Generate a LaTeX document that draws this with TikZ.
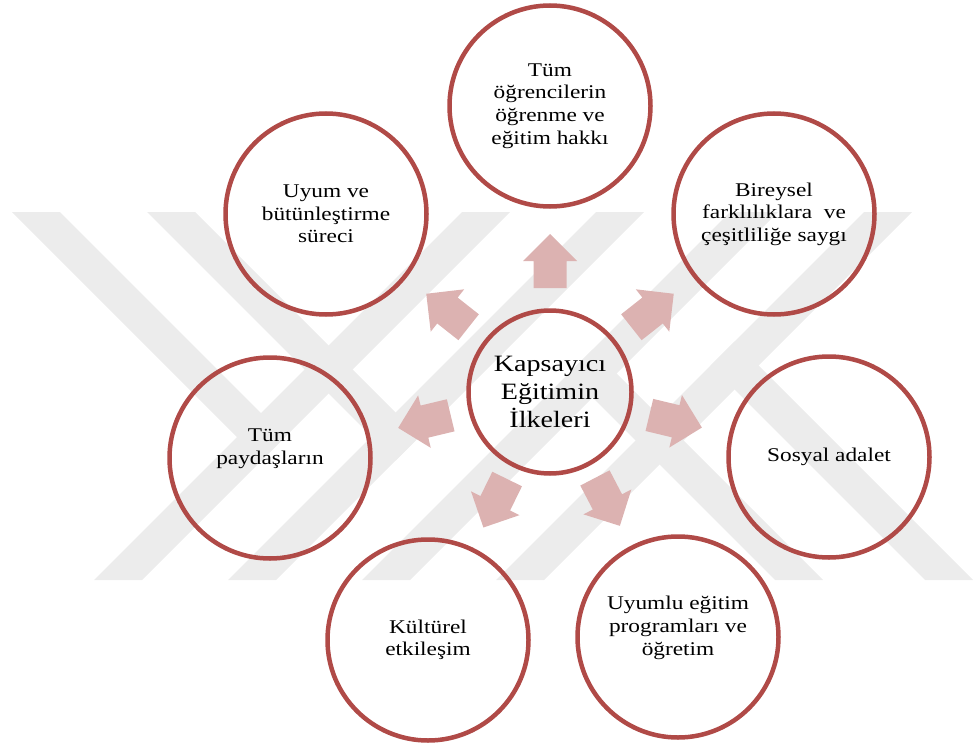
\documentclass[tikz,border=0pt]{standalone}
\usepackage{fontspec}
\setmainfont{Liberation Serif}[FakeStretch=1.2]
\usetikzlibrary{calc}
\definecolor{ringred}{RGB}{176,74,71}
\definecolor{arrpink}{RGB}{220,178,177}
\definecolor{wmgray}{RGB}{236,236,236}
\tikzset{ring/.style={circle,draw=ringred,line width=4.5bp,minimum size=201bp,inner sep=0pt,align=center,font=\fontsize{19.5}{22.7}\selectfont}}
\tikzset{hub/.style={ring,minimum size=163bp,font=\fontsize{23.5}{28}\selectfont}}
\tikzset{blk/.pic={\fill[arrpink] (-27,-16.5) -- (0,-16.5) -- (0,-27) -- (27,0) -- (0,27) -- (0,16.5) -- (-27,16.5) -- cycle;}}
\tikzset{wm/.style={fill=wmgray}}

\begin{document}
\begin{tikzpicture}[x=1bp,y=-1bp]
                \useasboundingbox (0,0) rectangle (979,744);
                % watermark
                \foreach \b in {462,596,730,864}
                  \fill[wm] (\b,212) -- ++(48,0) -- ++(-368,368) -- ++(-48,0) -- cycle;
                \fill[wm] (12,212) -- (60,212) -- (285,437) -- (261,461) -- cycle;
                \fill[wm] (147,212) -- (195,212) -- (419.5,436.5) -- (395.5,460.5) -- cycle;
                \fill[wm] (775,580) -- (823,580) -- (592.5,349.5) -- (568.5,373.5) -- cycle;
                \fill[wm] (925,580) -- (973,580) -- (734.5,341.5) -- (710.5,365.5) -- cycle;
                % circles
                \node[hub] (k) at (550,392) {Kapsayıcı\\Eğitimin\\İlkeleri};
                \node[ring] (t) at (550,106) {Tüm\\öğrencilerin\\öğrenme ve\\eğitim hakkı};
                \node[ring] (ul) at (326,214) {Uyum ve\\bütünleştirme\\süreci};
                \node[ring] (ur) at (774,214) {Bireysel\\farklılıklara~~ve\\çeşitliliğe saygı};
                \node[ring] (l) at (270,458) {Tüm\\paydaşların\\\mbox{}};
                \node[ring] (r) at (829,457) {Sosyal adalet};
                \node[ring] (bl) at (428,640) {Kültürel\\etkileşim};
                \node[ring] (br) at (678,637) {Uyumlu eğitim\\programları ve\\öğretim\\\mbox{}};
                % arrows
                \pic[rotate=90] (a1) at ($(k)!131bp!(t)$) {blk};
                \pic[rotate=141.7] (a2) at ($(k)!131bp!(ul)$) {blk};
                \pic[rotate=38.3] (a3) at ($(k)!131bp!(ur)$) {blk};
                \pic[rotate=193.5] (a4) at ($(k)!129bp!(l)$) {blk};
                \pic[rotate=-13.5] (a5) at ($(k)!129bp!(r)$) {blk};
                \pic[rotate=243.9] (a6) at ($(k)!124bp!(bl)$) {blk};
                \pic[rotate=-62.5] (a7) at ($(k)!124bp!(br)$) {blk};
            \end{tikzpicture}
\end{document}
